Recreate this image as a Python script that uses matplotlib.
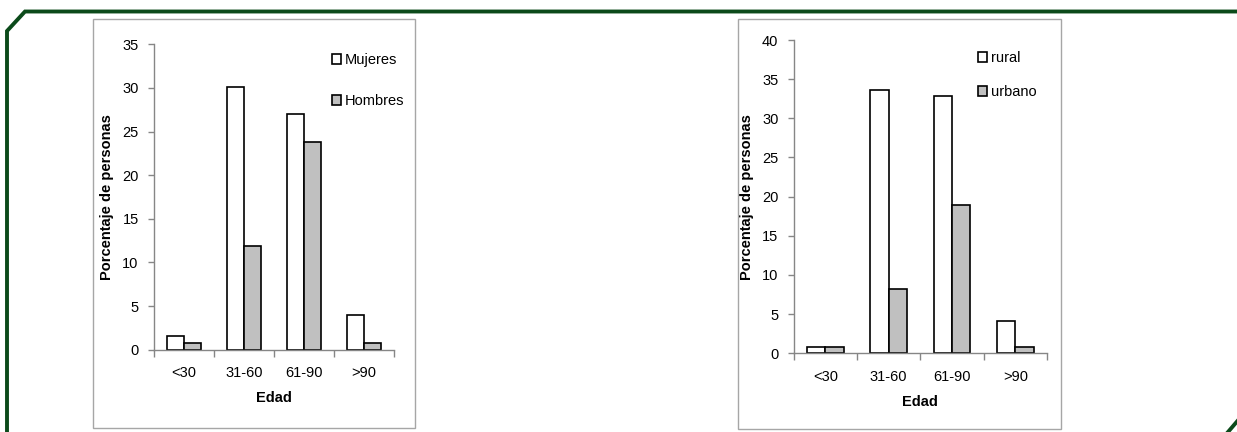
import numpy as np
import matplotlib
matplotlib.use("Agg")
import matplotlib.pyplot as plt
from matplotlib import font_manager
from matplotlib.patches import Rectangle
from matplotlib.lines import Line2D

# Age groups and percentages for each split
categories = ["<30", "31-60", "61-90", ">90"]
mujeres = [1.6, 30.1, 27.0, 4.0]
hombres = [0.8, 11.9, 23.8, 0.8]
rural = [0.85, 33.6, 32.8, 4.1]
urbano = [0.85, 8.2, 18.9, 0.85]

names = {f.name for f in font_manager.fontManager.ttflist}
family = "Liberation Sans Narrow" if "Liberation Sans Narrow" in names else "Liberation Sans"
plt.rcParams["font.family"] = [family, "DejaVu Sans"]

W, H = 1237, 432
fig = plt.figure(figsize=(W / 100, H / 100), dpi=100)

def px_axes(x0, y0, x1, y1):
    return fig.add_axes([x0 / W, 1 - y1 / H, (x1 - x0) / W, (y1 - y0) / H])

GREEN = "#0b4a1a"
# decorative frame
fig.add_artist(Line2D([7 / W, 7 / W, 25 / W, 1.0],
                      [0, 1 - 31 / H, 1 - 11.5 / H, 1 - 11.5 / H],
                      transform=fig.transFigure, color=GREEN, lw=2.8,
                      solid_joinstyle="miter"))
fig.add_artist(Line2D([1228 / W, 1240 / W], [0, 1 - 418 / H],
                      transform=fig.transFigure, color=GREEN, lw=2.8))

def draw_panel(box, axbox, s1, s2, labels, ymax, leg_xy, leg_gap):
    fig.add_artist(Rectangle((box[0] / W, 1 - box[3] / H),
                             (box[2] - box[0]) / W, (box[3] - box[1]) / H,
                             transform=fig.transFigure, fill=False,
                             edgecolor="#a6a6a6", lw=1.0))
    ax = px_axes(*axbox)
    x = np.arange(len(categories))
    w = 0.29
    b1 = ax.bar(x - w / 2, s1, w, color="white", edgecolor="black", lw=1.2,
                label=labels[0])
    b2 = ax.bar(x + w / 2, s2, w, color="#c0c0c0", edgecolor="black", lw=1.2,
                label=labels[1])
    ax.set_xlim(-0.5, len(categories) - 0.5)
    ax.set_ylim(0, ymax)
    ax.set_yticks(np.arange(0, ymax + 1, 5))
    ax.set_xticks(x)
    ax.set_xticklabels(categories)
    ax.set_xticks(np.arange(-0.5, len(categories)), minor=True)
    for s in ("top", "right"):
        ax.spines[s].set_visible(False)
    for s in ("left", "bottom"):
        ax.spines[s].set_color("#868686")
        ax.spines[s].set_linewidth(1.0)
    ax.tick_params(axis="y", direction="out", length=4, width=1,
                   color="#868686", labelsize=10.5, pad=7)
    ax.tick_params(axis="x", which="major", length=0, labelsize=10.5, pad=12)
    ax.tick_params(axis="x", which="minor", direction="out", length=5,
                   width=1, color="#868686")
    ax.set_ylabel("Porcentaje de personas", fontsize=10.5, fontweight="bold",
                  labelpad=6)
    ax.set_xlabel("Edad", fontsize=10.5, fontweight="bold", labelpad=8)
    ax.set_facecolor("none")
    ax.legend(handles=[b1, b2], loc="upper left",
              bbox_to_anchor=(leg_xy[0] / W, 1 - leg_xy[1] / H),
              bbox_transform=fig.transFigure, frameon=False,
              fontsize=10.5, handlelength=0.65, handleheight=0.65,
              handletextpad=0.25, labelspacing=leg_gap, borderpad=0,
              borderaxespad=0)
    return ax

draw_panel((93, 19, 415, 428), (154, 44.3, 394, 349.7), mujeres, hombres,
           ["Mujeres", "Hombres"], 35, (332, 53), 1.85)
draw_panel((738, 19, 1061, 429), (793.7, 40, 1047, 353.3), rural, urbano,
           ["rural", "urbano"], 40, (978, 51), 1.4)

fig.savefig("out.png", dpi=100)
